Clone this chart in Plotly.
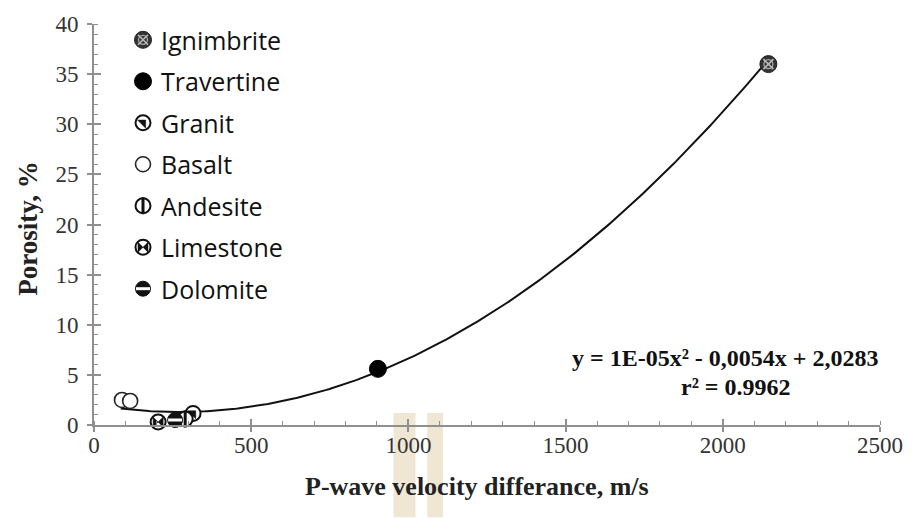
import numpy as np
import plotly.graph_objects as go

# Rock types and their measurements (P-wave velocity difference, porosity)
rocks = ["Ignimbrite", "Travertine", "Granit", "Basalt", "Andesite", "Limestone", "Dolomite"]
vp_diff = {
    "Ignimbrite": [2145],
    "Travertine": [903],
    "Granit": [315],
    "Basalt": [89, 115],
    "Andesite": [290],
    "Limestone": [204],
    "Dolomite": [258],
}
porosity = {
    "Ignimbrite": [36.0],
    "Travertine": [5.6],
    "Granit": [1.15],
    "Basalt": [2.5, 2.4],
    "Andesite": [0.6],
    "Limestone": [0.3],
    "Dolomite": [0.5],
}

# Polynomial trend line: y = 1E-05x^2 - 0.0054x + 2.0283
coef_a, coef_b, coef_c = 1e-05, -0.0054, 2.0283
fit_start, fit_end = 85, 2145

x_ticks = [0, 500, 1000, 1500, 2000, 2500]
y_ticks = [0, 5, 10, 15, 20, 25, 30, 35, 40]

# Layered marker glyphs: (symbol, size, fill, line colour, line width)
glyphs = {
    "Ignimbrite": [("circle", 17, "#333333", "#222222", 1),
                   ("circle-open", 9, "#aaaaaa", "#aaaaaa", 1.3),
                   ("x-thin-open", 10, "#bbbbbb", "#bbbbbb", 1.6)],
    "Travertine": [("circle", 17, "#000000", "#000000", 1)],
    "Granit": [("circle", 15, "white", "#111111", 2),
               ("triangle-ne", 9, "#111111", "#111111", 0.5)],
    "Basalt": [("circle", 15, "white", "#222222", 1.6)],
    "Andesite": [("circle", 15, "white", "#111111", 2),
                 ("line-ns", 12, "#111111", "#111111", 3)],
    "Limestone": [("circle", 15, "white", "#111111", 2),
                  ("bowtie", 10, "#111111", "#111111", 0.5)],
    "Dolomite": [("circle", 15, "#111111", "#111111", 1),
                 ("line-ew", 10, "white", "white", 3)],
}

SERIF = "Liberation Serif"
AXIS_GRAY = "#8f8f8f"
TICK_TEXT = "#333333"

fig = go.Figure()

# Trend curve
xf = np.linspace(fit_start, fit_end, 300)
yf = coef_a * xf ** 2 + coef_b * xf + coef_c
fig.add_trace(go.Scatter(x=xf, y=yf, mode="lines",
                         line=dict(color="#111111", width=2),
                         hoverinfo="skip", showlegend=False))


def add_glyph(name, xs, ys, xaxis="x", yaxis="y"):
    for sym, size, fill, lcol, lw in glyphs[name]:
        fig.add_trace(go.Scatter(
            x=xs, y=ys, mode="markers", name=name, showlegend=False,
            xaxis=xaxis, yaxis=yaxis, cliponaxis=False,
            marker=dict(symbol=sym, size=size, color=fill,
                        line=dict(color=lcol, width=lw))))


for r in rocks:
    add_glyph(r, vp_diff[r], porosity[r])

# Key panel drawn on a pixel-scaled overlay axis (origin at plot top-left)
key_x = 49
key_y0, key_dy = 16, 42
for i, r in enumerate(rocks):
    ky = key_y0 + i * key_dy
    add_glyph(r, [key_x], [ky], xaxis="x3", yaxis="y3")
    fig.add_annotation(x=key_x + 16, y=ky, xref="x3", yref="y3", text=r,
                       showarrow=False, xanchor="left", yanchor="middle",
                       font=dict(family="Open Sans", size=25, color="#111111"))

# Invisible carrier for the inside-tick overlay axis
fig.add_trace(go.Scatter(x=[None], y=[None], xaxis="x2", yaxis="y2",
                         showlegend=False, hoverinfo="skip"))

axis_common = dict(showgrid=False, zeroline=False, showline=True,
                   linecolor=AXIS_GRAY, linewidth=2, tickcolor=AXIS_GRAY,
                   tickwidth=1.5, mirror=False)

fig.update_layout(
    width=920, height=518,
    margin=dict(l=94, r=40, t=19, b=93),
    paper_bgcolor="white", plot_bgcolor="white",
    font=dict(family=SERIF, size=23, color=TICK_TEXT),
    showlegend=False,
    xaxis=dict(range=[0, 2500], tickvals=x_ticks, ticks="outside", ticklen=5,
               tickfont=dict(family=SERIF, size=23, color=TICK_TEXT),
               ticklabelstandoff=-7,
               minor=dict(dtick=100, ticks="inside", ticklen=4,
                          tickcolor=AXIS_GRAY, tickwidth=1),
               **axis_common),
    yaxis=dict(range=[0, 40], tickvals=y_ticks, ticks="outside", ticklen=5,
               tickfont=dict(family=SERIF, size=23, color=TICK_TEXT),
               ticklabelstandoff=4,
               minor=dict(dtick=1, ticks="inside", ticklen=4,
                          tickcolor=AXIS_GRAY, tickwidth=1),
               **axis_common),
    xaxis2=dict(range=[0, 2500], tickvals=x_ticks, ticks="inside", ticklen=6,
                showticklabels=False, overlaying="x", anchor="y2",
                showgrid=False, zeroline=False, showline=False,
                tickcolor=AXIS_GRAY, tickwidth=1.5),
    yaxis2=dict(range=[0, 40], tickvals=y_ticks, ticks="inside", ticklen=7,
                showticklabels=False, overlaying="y", anchor="x2",
                showgrid=False, zeroline=False, showline=False,
                tickcolor=AXIS_GRAY, tickwidth=1.5),
    xaxis3=dict(range=[0, 786], visible=False, overlaying="x", anchor="y3"),
    yaxis3=dict(range=[406, 0], visible=False, overlaying="y", anchor="x3"),
)

# Faint beige publisher mark behind the lower axis
for x0, x1 in [(0.381, 0.409), (0.424, 0.444)]:
    fig.add_shape(type="rect", xref="paper", yref="paper",
                  x0=x0, x1=x1, y0=-0.23, y1=0.03, layer="below",
                  line=dict(width=0), fillcolor="#efe6d4")

# Axis titles
fig.add_annotation(x=0.487, y=-0.153, xref="paper", yref="paper",
                   text="<b>P-wave velocity differance, m/s</b>", showarrow=False,
                   xanchor="center", yanchor="middle",
                   font=dict(family=SERIF, size=26, color="#222222"))
fig.add_annotation(x=-0.085, y=0.49, xref="paper", yref="paper",
                   text="<b>Porosity, %</b>", showarrow=False, textangle=-90,
                   xanchor="center", yanchor="middle",
                   font=dict(family=SERIF, size=27, color="#222222"))

# Trend equation
fig.add_annotation(x=0.804, y=0.167, xref="paper", yref="paper",
                   text="<b>y = 1E-05x² - 0,0054x + 2,0283</b>", showarrow=False,
                   xanchor="center", yanchor="middle",
                   font=dict(family=SERIF, size=24, color="#111111"))
fig.add_annotation(x=0.817, y=0.096, xref="paper", yref="paper",
                   text="<b>r² = 0.9962</b>", showarrow=False,
                   xanchor="center", yanchor="middle",
                   font=dict(family=SERIF, size=24, color="#111111"))

fig.write_html("out.html")
